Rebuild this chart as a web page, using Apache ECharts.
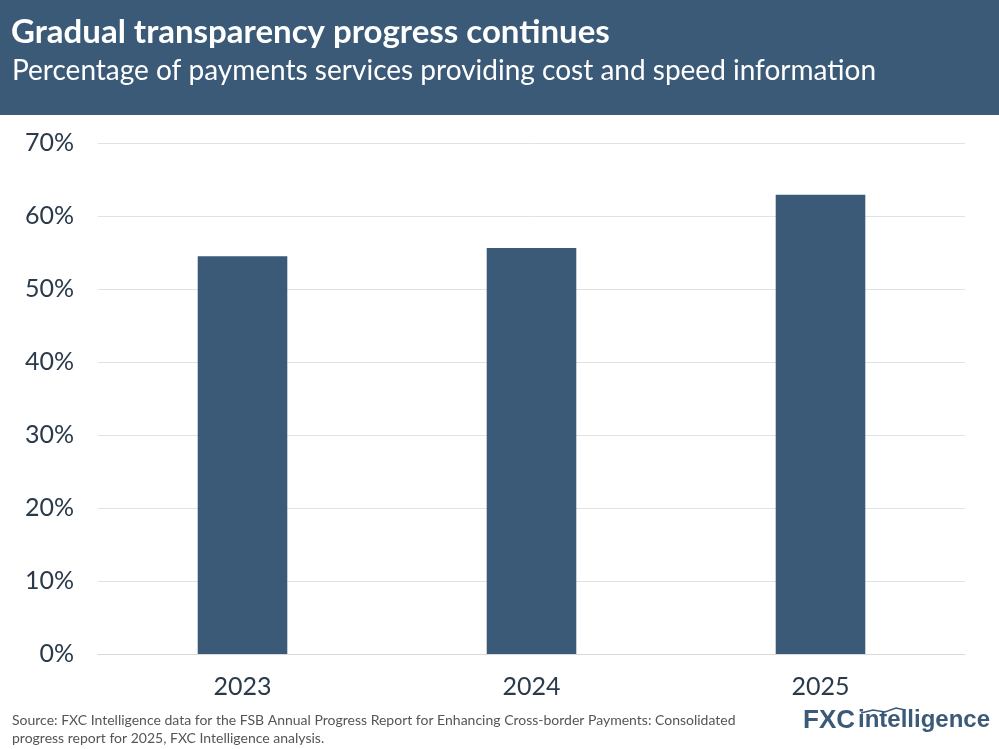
<!DOCTYPE html>
<html><head><meta charset="utf-8">
<script src="https://cdn.jsdelivr.net/npm/echarts@6/dist/echarts.min.js"></script>
<style>html,body{margin:0;padding:0;background:#fff}#c{width:999px;height:749px}</style>
</head><body><div id="c"></div>
<script>
const categories = ['2023', '2024', '2025'];
const values = [54.5, 55.6, 62.9];
const yTicks = [0, 10, 20, 30, 40, 50, 60, 70];
const titleText = 'Gradual transparency progress continues';
const subtitleText = 'Percentage of payments services providing cost and speed information';
const sourceLines = ['Source: FXC Intelligence data for the FSB Annual Progress Report for Enhancing Cross-border Payments: Consolidated', 'progress report for 2025, FXC Intelligence analysis.'];

const navy = '#3a5a78';
const chart = echarts.init(document.getElementById('c'));
chart.setOption({
  backgroundColor: '#fff',
  animation: false,
  textStyle: { fontFamily: 'Lato' },
  graphic: [
    { type: 'rect', shape: { x: 0, y: 0, width: 999, height: 115 }, style: { fill: navy }, z: 0 },
    { type: 'text', left: 11, top: 16, style: { text: titleText, fill: '#fff', font: 'bold 33px Lato' } },
    { type: 'text', left: 12, top: 57, style: { text: subtitleText, fill: '#fff', font: '28px Lato' } },
    { type: 'text', left: 12, top: 711, style: { text: sourceLines.join('\n'), fill: '#555', font: '14px Lato', lineHeight: 18 } },
    { type: 'text', left: 803, top: 708, style: { text: 'FXC', fill: navy, font: 'bold 26px "Liberation Sans"' } },
    { type: 'text', left: 858, top: 708, style: { text: 'intelligence', fill: navy, font: 'bold 24px "Liberation Sans"' } },
    { type: 'polyline', shape: { points: [[861, 713], [873, 710], [885, 712], [896, 708], [905, 710]] }, style: { stroke: navy, lineWidth: 1.5, fill: null } }
  ],
  grid: { left: 98, right: 34, top: 143, bottom: 95, containLabel: false },
  xAxis: {
    type: 'category', data: categories,
    axisLine: { show: true, lineStyle: { color: '#d9d9d9', width: 1 } },
    axisTick: { show: false },
    axisLabel: { color: '#2a3a4a', fontSize: 25, fontFamily: 'Lato', margin: 20 }
  },
  yAxis: {
    type: 'value', min: 0, max: 70, interval: 10,
    axisLine: { show: false }, axisTick: { show: false },
    splitLine: { lineStyle: { color: '#e2e2e2', width: 1 } },
    axisLabel: { color: '#2a3a4a', fontSize: 25, fontFamily: 'Lato', margin: 24, formatter: v => yTicks.includes(v) ? v + '%' : '' }
  },
  series: [{
    type: 'bar', data: values, barWidth: '31%',
    itemStyle: { color: navy }
  }]
});
</script></body></html>
